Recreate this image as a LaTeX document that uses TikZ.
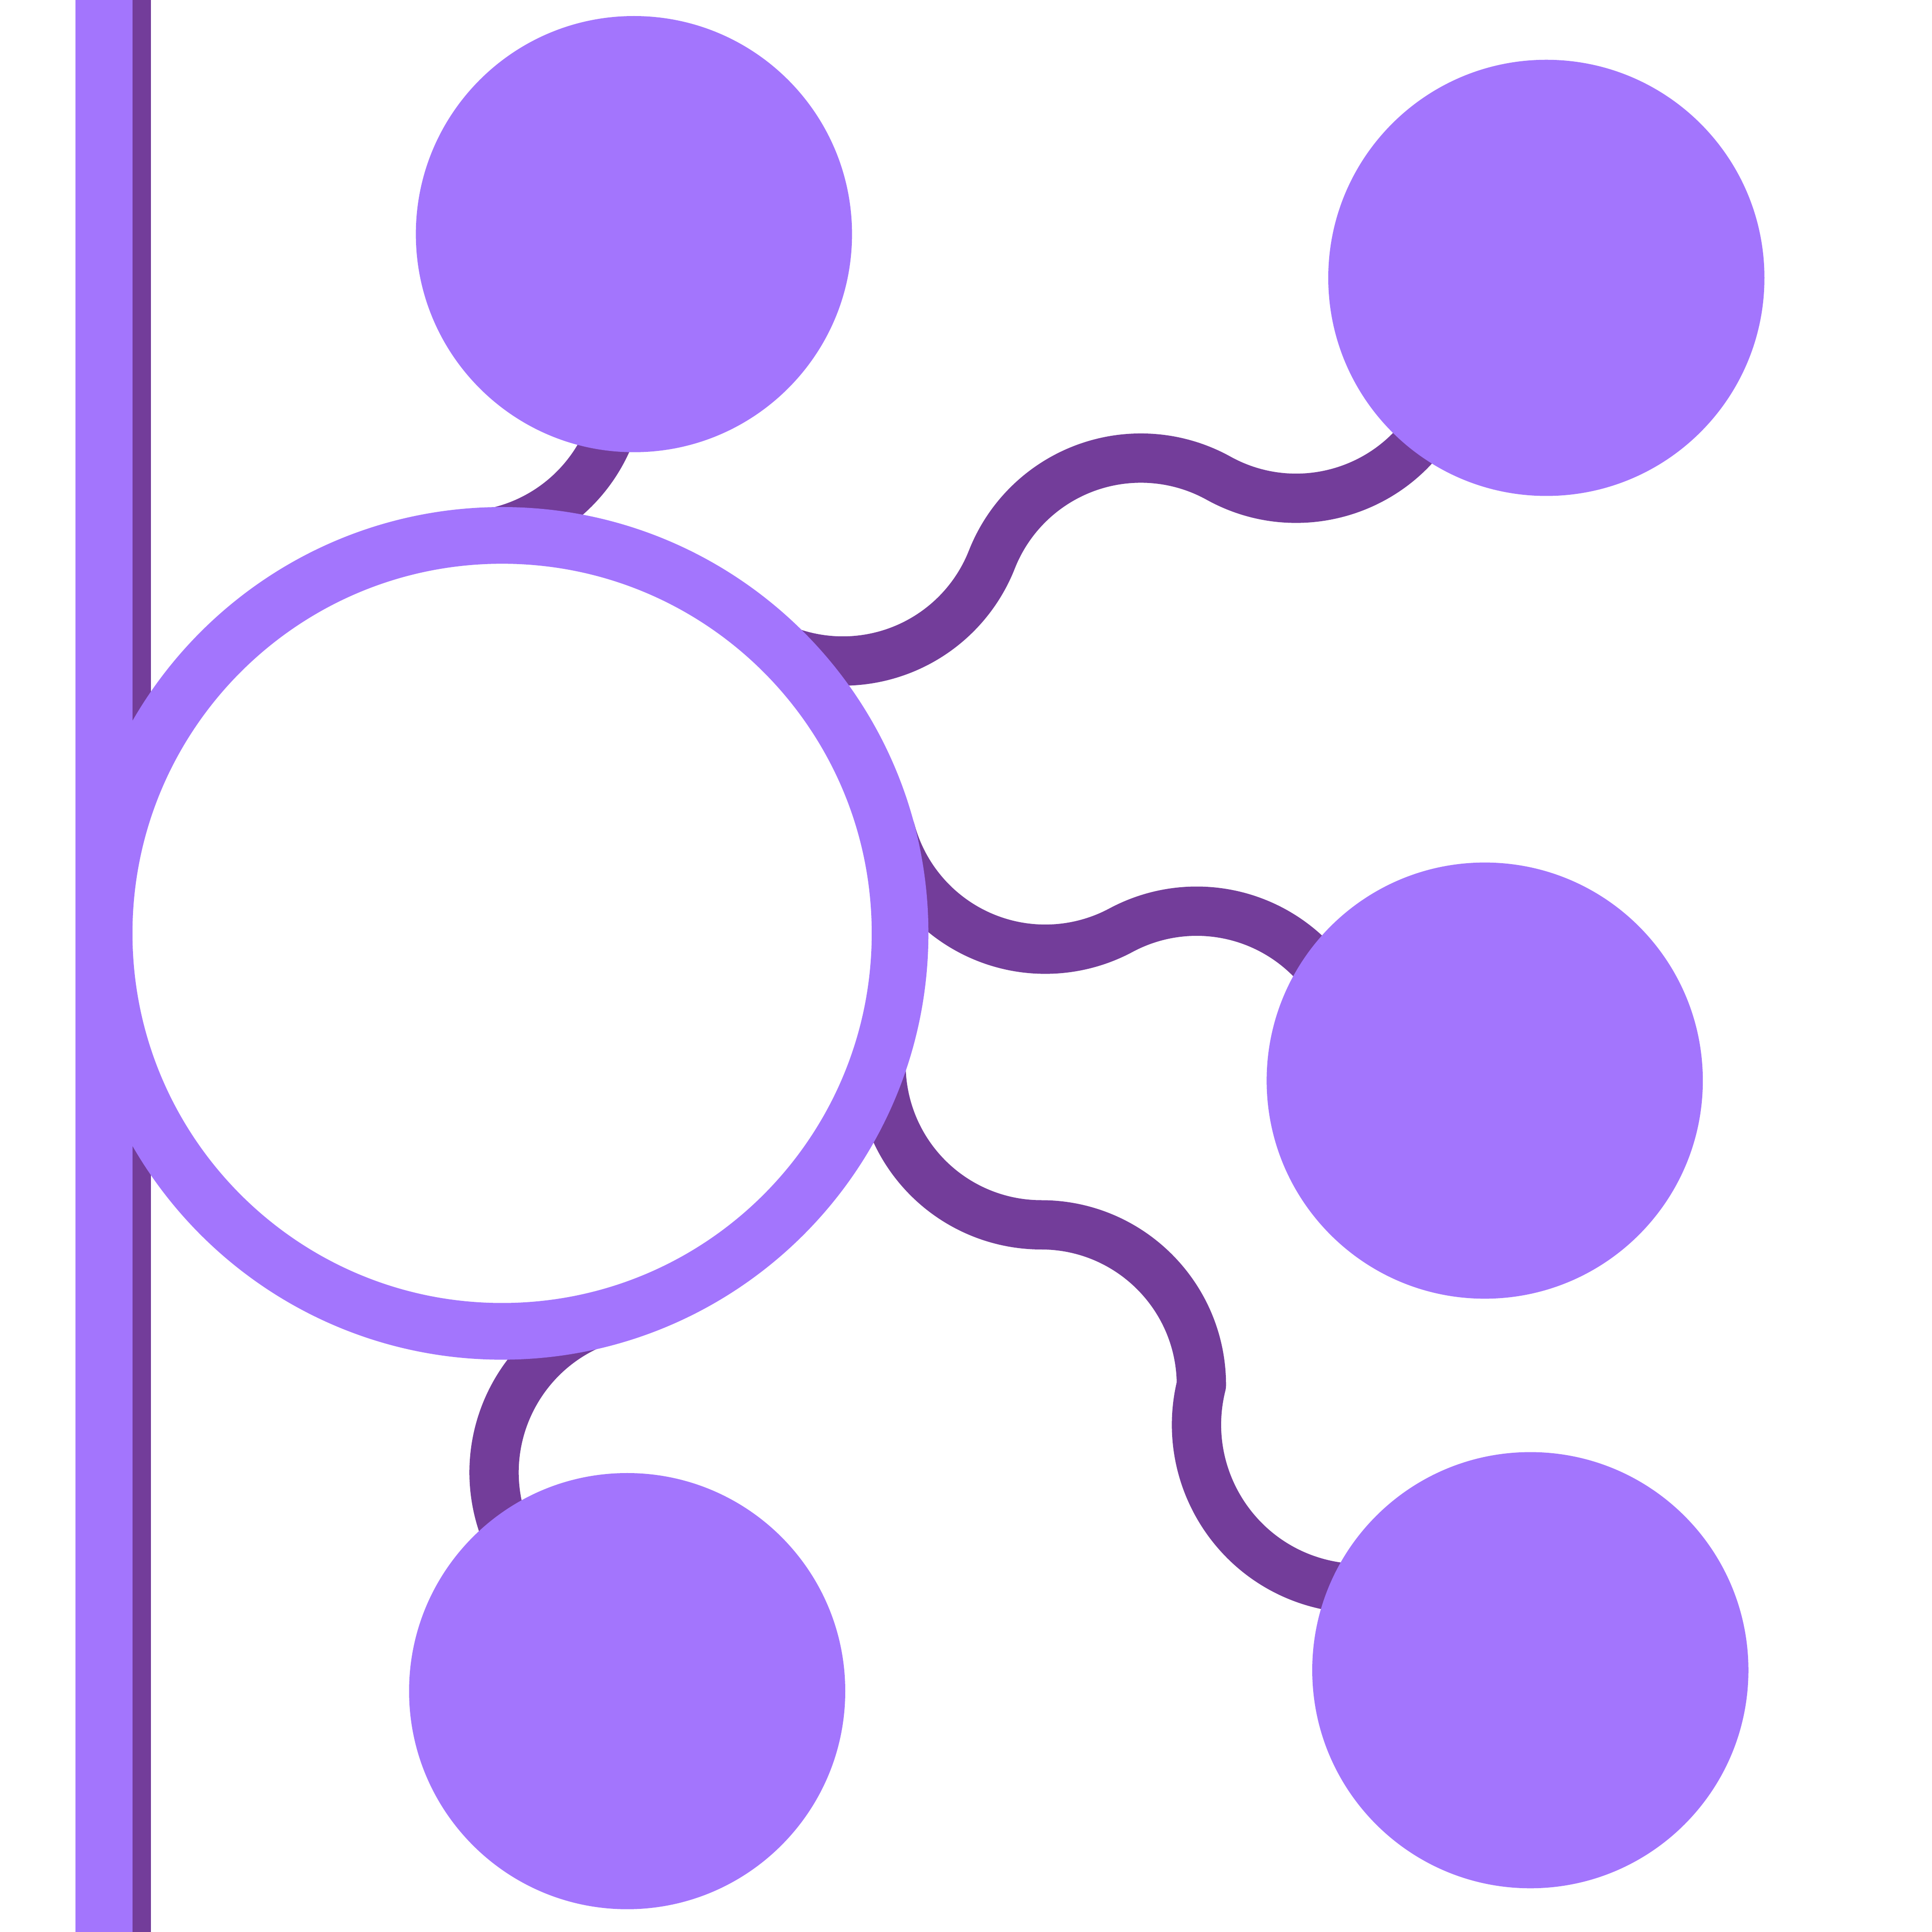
\documentclass[tikz,border=0pt]{standalone}
\usetikzlibrary{backgrounds}
\definecolor{lilac}{HTML}{A375FD}
\definecolor{plum}{HTML}{733D9A}
\begin{document}
\begin{tikzpicture}[x=0.1mm,y=-0.1mm,
    hubring/.style={circle,draw=lilac,fill=white,line width=4.6mm,minimum size=64.6mm,inner sep=0pt},
    leaf/.style={circle,fill=lilac,minimum size=35.4mm,inner sep=0pt},
    link/.style={draw=plum,line width=4mm,line join=round}]
  \useasboundingbox (0,0) rectangle (1568,1568);
  \node[hubring] (hub) at (407.5,757.5) {};
  \foreach \n/\x/\y in {A/514.5/190,B/1255/225.5,C/1205/877,D/1242/1355.5,E/509/1372.5}{
    \node[leaf] (leaf\n) at (\x,\y) {};}
  \begin{pgfonlayer}{background}
    % side rail
    \fill[lilac] (61.3,0) rectangle (107.7,1568);
    \fill[plum] (107.7,0) rectangle (122.5,1568);
    % wavy links, hub to leaves
    \coordinate (s1) at (383.1,434.7);
    \coordinate (s2) at (592.1,498.4);
    \coordinate (s3) at (722.8,674.0);
    \coordinate (s4) at (718.9,832.6);
    \coordinate (s5) at (495.9,1069.1);
    \draw[link] (hub.center) -- (s1) arc[start angle=86,end angle=-10,radius=130]
      -- (leafA.center);
    \draw[link] (hub.center) -- (s2) arc[start angle=135,end angle=21.5,radius=130]
      arc[start angle=201.5,end angle=299,radius=130]
      arc[start angle=119,end angle=-10,radius=130] -- (leafB.center);
    \draw[link] (hub.center) -- (s3) arc[start angle=165,end angle=61.8,radius=130]
      arc[start angle=241.8,end angle=350,radius=130] -- (leafC.center);
    \draw[link] (hub.center) -- (s4) arc[start angle=194,end angle=90,radius=130]
      arc[start angle=270,end angle=360,radius=130]
      arc[start angle=194,end angle=60,radius=133] -- (leafD.center);
    \draw[link] (hub.center) -- (s5) arc[start angle=254,end angle=110,radius=131]
      -- (leafE.center);
  \end{pgfonlayer}
\end{tikzpicture}
\end{document}
